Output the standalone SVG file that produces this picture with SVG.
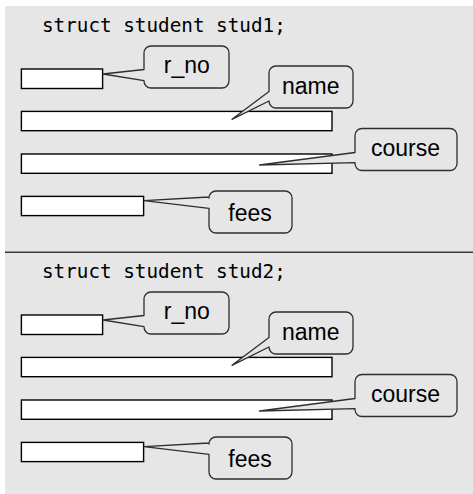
<svg xmlns="http://www.w3.org/2000/svg" width="473" height="494" viewBox="0 0 473 494">
<style>
.bg{fill:#e6e6e6;stroke:none}
.field{fill:#ffffff;stroke:#000000;stroke-width:1.4}
.callout{fill:#e6e6e6;stroke:#2e2e2e;stroke-width:1.3;stroke-linejoin:round}
.lbl{font-family:"Liberation Sans",Arial,sans-serif;font-size:23px;fill:#000000;text-anchor:middle}
.code{font-family:"DejaVu Sans Mono","Liberation Mono",monospace;font-size:19.3px;fill:#000000}
.divider{stroke:#3a3a3a;stroke-width:1.6}
</style>
<rect class="bg" x="5" y="6" width="468" height="246"/>
<rect class="bg" x="5" y="252" width="468" height="242"/>
<line class="divider" x1="5" y1="252.3" x2="473" y2="252.3"/>

<g id="stud1">
  <text id="stud1-title" class="code" x="42" y="32.3">struct student stud1;</text>
  <g id="stud1-r_no-field"><rect class="field" x="21.4" y="69" width="81.2" height="19.5"/></g>
  <g id="stud1-name-field"><rect class="field" x="21.4" y="111.4" width="310.6" height="19.3"/></g>
  <g id="stud1-course-field"><rect class="field" x="21.4" y="154" width="310.6" height="19.3"/></g>
  <g id="stud1-fees-field"><rect class="field" x="21.4" y="196.4" width="122.2" height="19.2"/></g>
  <g id="connectors-stud1">
    <g id="stud1-r_no"><path class="callout" d="M151,46 H222 A7,7 0 0 1 229,53 V81 A7,7 0 0 1 222,88 H151 A7,7 0 0 1 144,81 V80.7 L103,74 L144,69.5 V53 A7,7 0 0 1 151,46 Z"/><text class="lbl" x="186.8" y="72.5">r_no</text></g>
    <g id="stud1-name"><path class="callout" d="M276,66 H346 A7,7 0 0 1 353,73 V101 A7,7 0 0 1 346,108 H276 A7,7 0 0 1 269,101 L232,119.3 L269,91.5 V73 A7,7 0 0 1 276,66 Z"/><text class="lbl" x="310.7" y="93.5">name</text></g>
    <g id="stud1-course"><path class="callout" d="M362,128.5 H450 A7,7 0 0 1 457,135.5 V163.5 A7,7 0 0 1 450,170.5 H362 A7,7 0 0 1 355,163.5 V162.7 L259.5,165 L355,152.5 V135.5 A7,7 0 0 1 362,128.5 Z"/><text class="lbl" x="405.5" y="156">course</text></g>
    <g id="stud1-fees"><path class="callout" d="M216,191 H285 A7,7 0 0 1 292,198 V226 A7,7 0 0 1 285,233 H216 A7,7 0 0 1 209,226 V208.3 L144,200.7 L209,197 V198 A7,7 0 0 1 216,191 Z"/><text class="lbl" x="250" y="220.7">fees</text></g>
  </g>
</g>

<g id="stud2" transform="translate(0,246)">
  <text id="stud2-title" class="code" x="42" y="32.3">struct student stud2;</text>
  <g id="stud2-r_no-field"><rect class="field" x="21.4" y="69" width="81.2" height="19.5"/></g>
  <g id="stud2-name-field"><rect class="field" x="21.4" y="111.4" width="310.6" height="19.3"/></g>
  <g id="stud2-course-field"><rect class="field" x="21.4" y="154" width="310.6" height="19.3"/></g>
  <g id="stud2-fees-field"><rect class="field" x="21.4" y="196.4" width="122.2" height="19.2"/></g>
  <g id="connectors-stud2">
    <g id="stud2-r_no"><path class="callout" d="M151,46 H222 A7,7 0 0 1 229,53 V81 A7,7 0 0 1 222,88 H151 A7,7 0 0 1 144,81 V80.7 L103,74 L144,69.5 V53 A7,7 0 0 1 151,46 Z"/><text class="lbl" x="186.8" y="72.5">r_no</text></g>
    <g id="stud2-name"><path class="callout" d="M276,66 H346 A7,7 0 0 1 353,73 V101 A7,7 0 0 1 346,108 H276 A7,7 0 0 1 269,101 L232,119.3 L269,91.5 V73 A7,7 0 0 1 276,66 Z"/><text class="lbl" x="310.7" y="93.5">name</text></g>
    <g id="stud2-course"><path class="callout" d="M362,128.5 H450 A7,7 0 0 1 457,135.5 V163.5 A7,7 0 0 1 450,170.5 H362 A7,7 0 0 1 355,163.5 V162.7 L259.5,165 L355,152.5 V135.5 A7,7 0 0 1 362,128.5 Z"/><text class="lbl" x="405.5" y="156">course</text></g>
    <g id="stud2-fees"><path class="callout" d="M216,191 H285 A7,7 0 0 1 292,198 V226 A7,7 0 0 1 285,233 H216 A7,7 0 0 1 209,226 V208.3 L144,200.7 L209,197 V198 A7,7 0 0 1 216,191 Z"/><text class="lbl" x="250" y="220.7">fees</text></g>
  </g>
</g>
</svg>
